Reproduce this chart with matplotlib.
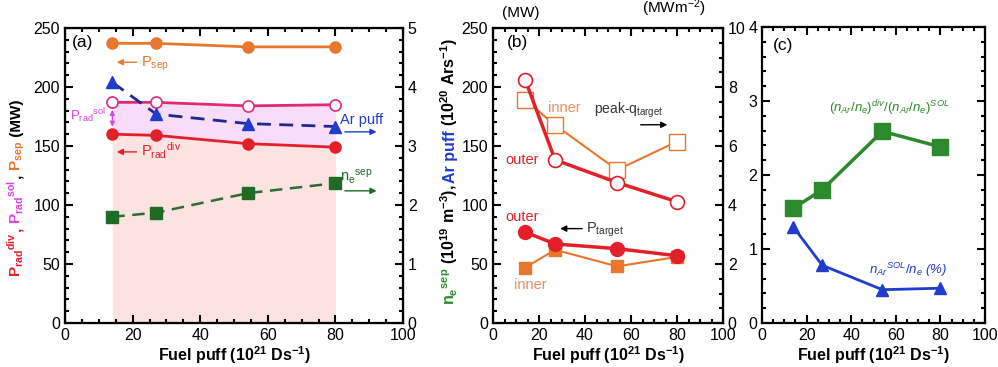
import matplotlib
matplotlib.use("Agg")
import matplotlib.pyplot as plt
from matplotlib.ticker import MultipleLocator
from matplotlib.transforms import IdentityTransform

plt.rcParams['font.family'] = ['Liberation Sans', 'DejaVu Sans']
plt.rcParams['mathtext.fontset'] = 'custom'
plt.rcParams['mathtext.rm'] = 'Liberation Sans'
plt.rcParams['mathtext.it'] = 'Liberation Sans:italic'
plt.rcParams['mathtext.bf'] = 'Liberation Sans:bold'

# ---- data ----
fuel = [14, 27, 54, 80]

# panel (a)
p_sep = [237, 237, 234, 234]
p_rad_sol = [187, 187, 184, 185]
p_rad_div = [160, 159, 152, 149]
ar_puff = [4.08, 3.54, 3.38, 3.33]
ne_sep = [1.80, 1.87, 2.20, 2.37]

# panel (b)
p_target_outer = [77, 67, 63, 57]
p_target_inner = [47, 62, 48, 56]
q_peak_outer = [8.24, 5.53, 4.76, 4.11]
q_peak_inner = [7.56, 6.71, 5.19, 6.15]

# panel (c)
ar_ratio_div_sol = [1.55, 1.80, 2.59, 2.38]
ar_sol_conc = [1.30, 0.78, 0.45, 0.47]

W, H = 998, 367
fig = plt.figure(figsize=(W / 100, H / 100), dpi=100)

ORANGE = '#e8762c'
RED = '#e3202a'
PINK = '#e02a78'
MAGENTA = '#e040e8'
BLUE = '#1f3ccc'
NAVY = '#1c2a8c'
DGREEN = '#1f6a25'
GREEN = '#2c8a2c'
TS = 11.5


def box(l, t, r, b):
    return [l / W, 1 - b / H, (r - l) / W, (b - t) / H]


def style(ax, ymaj, ymin, right=True, top=True):
    ax.xaxis.set_major_locator(MultipleLocator(20))
    ax.xaxis.set_minor_locator(MultipleLocator(5))
    ax.yaxis.set_major_locator(MultipleLocator(ymaj))
    ax.yaxis.set_minor_locator(MultipleLocator(ymin))
    ax.tick_params(which='both', direction='in', top=top, right=right,
                   width=1.5, labelsize=TS)
    ax.tick_params(which='major', length=6)
    ax.tick_params(which='minor', length=3)
    for s in ax.spines.values():
        s.set_linewidth(1.6)


def twin_style(ax, ymaj, ymin):
    ax.yaxis.set_major_locator(MultipleLocator(ymaj))
    ax.yaxis.set_minor_locator(MultipleLocator(ymin))
    ax.tick_params(which='both', direction='in', width=1.5, labelsize=TS)
    ax.tick_params(which='major', length=6)
    ax.tick_params(which='minor', length=3)


XLABEL = r"Fuel puff (10$^{\mathbf{21}}$ Ds$^{\mathbf{-1}}$)"
XS = 11.5

# ================= panel (a) =================
ax = fig.add_axes(box(65, 28, 403, 323))
ax.set_xlim(0, 100)
ax.set_ylim(0, 250)
style(ax, 50, 10, right=False)
ax.fill_between(fuel, 0, p_rad_div, color='#fde2e2', lw=0, zorder=0)
ax.fill_between(fuel, p_rad_div, p_rad_sol, color='#f9dcf8', lw=0, zorder=0)
ax.plot(fuel, p_sep, '-o', color=ORANGE, lw=2, ms=8, zorder=4)
ax.plot(fuel, p_rad_sol, '-o', color=PINK, lw=2, ms=8, mfc='white',
        mec=PINK, mew=1.2, zorder=4)
ax.plot(fuel, p_rad_div, '-o', color=RED, lw=2, ms=8, zorder=4)
ax.set_xlabel(XLABEL, fontsize=XS, fontweight='bold', labelpad=1)
ax.text(2, 238, '(a)', fontsize=12.5, va='center')

ax2 = ax.twinx()
ax2.set_ylim(0, 5)
twin_style(ax2, 1, 0.2)
ax2.plot(fuel, ar_puff, '--', color=NAVY, lw=2, dashes=(5, 3), zorder=3)
ax2.plot(fuel, ar_puff, '^', color=BLUE, ms=8, zorder=4)
ax2.plot(fuel, ne_sep, '--', color='#2e6a34', lw=1.8, dashes=(5, 3), zorder=3)
ax2.plot(fuel, ne_sep, 's', color=DGREEN, ms=9, zorder=4)

arr = dict(arrowstyle='-|>', lw=1.0, mutation_scale=9)
ax.annotate('', xy=(14.5, 221), xytext=(22, 221),
            arrowprops=dict(arr, color=ORANGE))
ax.text(22.5, 220, r'P$_{\rm sep}$', color=ORANGE, fontsize=10.5, va='center')
ax.annotate('', xy=(14.5, 145), xytext=(22, 145),
            arrowprops=dict(arr, color=RED))
ax.text(22.5, 146, r'P$_{\rm rad}$$^{\rm div}$', color=RED, fontsize=10.5,
        va='center')
ax.annotate('', xy=(14, 164), xytext=(14, 183),
            arrowprops=dict(arrowstyle='<|-|>', color=MAGENTA, lw=1.0,
                            mutation_scale=7))
ax.text(1.5, 176, r'P$_{\rm rad}$$^{\rm sol}$', color=MAGENTA, fontsize=9.5,
        va='center')
ax.text(81.5, 172, 'Ar puff', color=BLUE, fontsize=10.5, va='center')
ax.annotate('', xy=(93, 162), xytext=(82, 162),
            arrowprops=dict(arr, color=BLUE))
ax.text(81.5, 124, r'n$_{\rm e}$$^{\rm sep}$', color=DGREEN, fontsize=10.5,
        va='center')
ax.annotate('', xy=(93, 112), xytext=(82, 112),
            arrowprops=dict(arr, color=DGREEN))

# ================= panel (b) =================
bx = fig.add_axes(box(493, 28, 723, 323))
bx.set_xlim(0, 100)
bx.set_ylim(0, 250)
style(bx, 50, 10, right=False)
bx.plot(fuel, p_target_inner, '-s', color=ORANGE, lw=1.5, ms=9, zorder=4)
bx.plot(fuel, p_target_outer, '-o', color=RED, lw=2.5, ms=10, zorder=5)
bx.set_xlabel(XLABEL, fontsize=XS, fontweight='bold', labelpad=1)
bx.text(6, 238, '(b)', fontsize=12.5, va='center')
bx.text(4, 257, '(MW)', fontsize=11, va='bottom')

bx2 = bx.twinx()
bx2.set_ylim(0, 10)
twin_style(bx2, 2, 0.5)
bx2.plot(fuel, q_peak_inner, '-s', color=ORANGE, lw=1.5, ms=11,
         mfc='white', mec=ORANGE, mew=1.0, zorder=4)
bx2.plot(fuel, q_peak_outer, '-o', color=RED, lw=2.5, ms=10,
         mfc='white', mec=RED, mew=1.2, zorder=5)
bx2.text(65, 10.3, r'(MWm$^{-2}$)', fontsize=11, va='bottom')

bx.text(24, 182, 'inner', color='#e89060', fontsize=10.5, va='center')
bx.text(44, 180, r'peak-q$_{\rm target}$', color='#333333', fontsize=10,
        va='center')
bx.annotate('', xy=(77, 168), xytext=(63, 168),
            arrowprops=dict(arr, color='black'))
bx.text(5.5, 138, 'outer', color=RED, fontsize=10.5, va='center')
bx.text(5.5, 90, 'outer', color=RED, fontsize=10.5, va='center')
bx.annotate('', xy=(28, 80), xytext=(40, 80),
            arrowprops=dict(arr, color='black'))
bx.text(40.5, 79, r'P$_{\rm target}$', color='#333333', fontsize=10.5,
        va='center')
bx.text(9, 32, 'inner', color='#e89060', fontsize=10.5, va='center')

# ================= panel (c) =================
cx = fig.add_axes(box(762, 27, 985, 323))
cx.set_xlim(0, 100)
cx.set_ylim(0, 4)
style(cx, 1, 0.2)
cx.plot(fuel, ar_ratio_div_sol, '-s', color=GREEN, lw=2.5, ms=11, zorder=4)
cx.plot(fuel, ar_sol_conc, '-^', color=BLUE, lw=2, ms=9, zorder=4)
cx.set_xlabel(XLABEL, fontsize=XS, fontweight='bold', labelpad=1)
cx.text(5, 3.75, '(c)', fontsize=12.5, va='center')
cx.text(30, 2.9,
        r'$(n_{Ar}/n_e)^{div}/(n_{Ar}/n_e)^{SOL}$',
        color=GREEN, fontsize=9.5, va='center')
cx.text(48, 0.72, r'$n_{Ar}{}^{SOL}/n_e$ (%)', color=BLUE, fontsize=9.5,
        va='center', style='italic')


# ---- multicoloured vertical axis titles ----
def vlabel(x_px, yc_px, parts, size=12):
    r = fig.canvas.get_renderer()
    objs = []
    for s, c in parts:
        t = fig.text(0, 0, s, color=c, fontsize=size, fontweight='bold',
                     rotation=90, rotation_mode='anchor', ha='left',
                     va='baseline', transform=IdentityTransform())
        objs.append(t)
    lens = [t.get_window_extent(r).height for t in objs]
    total = sum(lens)
    y = (H - yc_px) - total / 2
    for t, L in zip(objs, lens):
        t.set_position((x_px, y))
        y += L


vlabel(21, 188, [(r'$\mathbf{P_{rad}{}^{div}}$', RED), (', ', RED),
                 (r'$\mathbf{P_{rad}{}^{sol}}$', MAGENTA), (', ', 'black'),
                 (r'$\mathbf{P_{sep}}$', ORANGE), (' (MW)', 'black')],
       size=11)
vlabel(455, 172, [(r'$\mathbf{n_e{}^{sep}}$', GREEN),
                  (r' (10$^{\mathbf{19}}$ m$^{\mathbf{-3}}$), ', 'black'),
                  ('Ar puff', BLUE),
                  (r' (10$^{\mathbf{20}}$ Ars$^{\mathbf{-1}}$)', 'black')],
       size=11.5)

fig.savefig('out.png', dpi=100)
